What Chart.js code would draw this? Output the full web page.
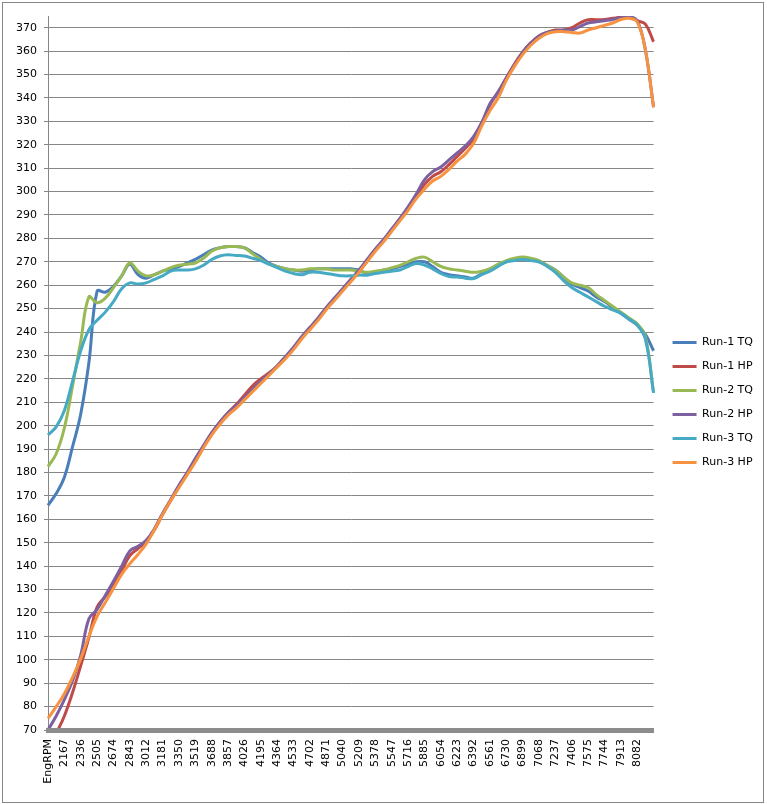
<!DOCTYPE html>
<html>
<head>
<meta charset="utf-8">
<title>Dyno runs</title>
<script src="https://cdn.jsdelivr.net/npm/chart.js@4.4.0/dist/chart.umd.min.js"></script>
<style>
  html, body { margin: 0; padding: 0; background: #fff; }
  #wrap { position: relative; width: 767px; height: 804px; }
  #wrap canvas { position: absolute; left: 0; top: 0; }
  #frame { position: absolute; left: 2px; top: 2px; width: 762px; height: 801px;
           border: 1px solid #868686; box-sizing: border-box; pointer-events: none; }
</style>
</head>
<body>
<div id="wrap">
  <canvas id="dyno" width="767" height="804"></canvas>
  <div id="frame"></div>
</div>
<script>
// categories: engine rpm (every second one is labelled)
const rpmLabels = ['EngRPM', '2083', '2167', '2252', '2336', '2421', '2505', '2590', '2674', '2759',
  '2843', '2928', '3012', '3097', '3181', '3266', '3350', '3435', '3519', '3604',
  '3688', '3773', '3857', '3942', '4026', '4111', '4195', '4280', '4364', '4449',
  '4533', '4618', '4702', '4787', '4871', '4956', '5040', '5125', '5209', '5294',
  '5378', '5463', '5547', '5632', '5716', '5801', '5885', '5970', '6054', '6139',
  '6223', '6308', '6392', '6477', '6561', '6646', '6730', '6815', '6899', '6984',
  '7068', '7153', '7237', '7322', '7406', '7491', '7575', '7660', '7744', '7829',
  '7913', '7998', '8082', '8167', '8251'];

const seriesNames = ['Run-1 TQ', 'Run-1 HP', 'Run-2 TQ', 'Run-2 HP', 'Run-3 TQ', 'Run-3 HP'];

const run1Tq = [166, 171, 178, 191, 205, 227, 257.5, 257, 259.5, 264,
  269, 264.5, 263, 264.5, 266, 267, 268, 269.5, 271, 273,
  275, 276, 276.5, 276.5, 276, 274, 272, 269.5, 268, 267,
  266.5, 266, 266.5, 267, 267, 267, 267, 267, 266.5, 265,
  265.5, 266.5, 267, 268, 269, 270, 270, 268, 265.5, 264.5,
  264, 263.5, 263, 265, 267, 268.5, 270, 271, 271, 271,
  270, 268.5, 266.5, 263.5, 260.5, 259, 257.5, 255, 253, 250.5,
  248, 245.5, 243, 239, 232];

const run1Hp = [61, 68.5, 76, 86, 97.5, 109.5, 122.5, 127, 131.5, 138,
  144.5, 147.5, 150.5, 155.5, 162, 168, 174, 179.5, 185, 191,
  196.5, 201.5, 205.5, 209, 213, 217, 220, 222.5, 225.5, 229,
  233, 237.5, 241.5, 245.5, 250, 254, 258, 262, 266, 270.5,
  275, 279, 283.5, 288, 293, 298, 303, 306.5, 308.5, 311.5,
  315, 318.5, 322.5, 329, 337, 342.5, 348.5, 354.5, 359.5, 363.5,
  366.5, 368, 369, 369, 370, 372, 373.4, 373.4, 373.5, 374,
  374.5, 374.5, 373, 371.5, 364];

const run2Tq = [182.5, 188, 199, 217, 236, 255, 252.5, 254.5, 259, 264,
  269.5, 266, 264, 264.5, 266, 267.5, 268.5, 269, 269.5, 271.5,
  274.5, 276, 276.5, 276.5, 276, 273.5, 271, 269, 268, 267,
  266.5, 266.5, 267, 267, 267, 266.5, 266.5, 266.5, 266, 265.5,
  266, 266.5, 267.5, 268.5, 270, 271.5, 272, 270, 268, 267,
  266.5, 266, 265.5, 266, 267, 269, 270.5, 271.5, 272, 271.5,
  270.5, 268.5, 266.5, 263.5, 261, 260, 259, 256, 253.5, 251,
  248.5, 246, 243.5, 238, 214];

const run2Hp = [70, 76, 83, 91, 102, 117.5, 121.5, 127.5, 133.5, 140,
  146.5, 148.5, 151, 156, 162.5, 168.5, 174.5, 180, 186, 191.5,
  197, 201.5, 205.5, 208.5, 212, 215.5, 219, 222, 225.5, 229.5,
  233.5, 238, 242, 246, 250.5, 254.5, 258.5, 262.5, 266.5, 271,
  275.5, 279.5, 284, 288.5, 293.5, 299, 305, 308.5, 310.5, 313.5,
  316.5, 319.5, 323.5, 329.5, 337.5, 342.5, 348.5, 354, 359.5, 363.5,
  366.5, 368, 368.5, 369, 369, 370.5, 372, 372.5, 373, 373.5,
  374.3, 374.8, 373, 360.5, 336];

const run3Tq = [196, 199.5, 206.5, 219, 232, 241, 245, 248.5, 253, 258.5,
  261, 260.5, 261, 262.5, 264, 266, 266.5, 266.5, 267, 268.5,
  271, 272.5, 273, 272.7, 272.5, 271.5, 270.5, 269, 267.5, 266,
  265, 264.5, 265.5, 265.5, 265, 264.5, 264, 264, 264.3, 264.3,
  265, 265.5, 266, 266.5, 268, 269.3, 268.6, 267, 265, 263.7,
  263.5, 263, 262.8, 264.5, 266, 268, 270, 270.5, 271, 270.5,
  270, 268, 265.5, 262, 259, 257, 255, 253, 251, 249.5,
  248, 245.5, 243, 237, 214];

const run3Hp = [75, 80, 85.5, 92.5, 100.5, 110, 118.5, 124.5, 130.5, 136.5,
  141, 145, 149.5, 155.5, 162, 168, 173.5, 179, 184.5, 190.5,
  196, 200.5, 204.5, 207.5, 211, 214.5, 218, 221.5, 225, 228.5,
  232.5, 237, 241, 245, 249.5, 253.5, 257.5, 261.5, 265.5, 270,
  274.5, 278.5, 283, 287.5, 292, 297, 301, 304.5, 306.5, 309.5,
  313, 316, 320.5, 328, 334.5, 340, 347.5, 353.5, 358.5, 362.5,
  365.5, 367.5, 368.3, 368.3, 368, 367.7, 369, 370, 371, 372,
  373.5, 374, 372.5, 360.5, 336];

const seriesData = [run1Tq, run1Hp, run2Tq, run2Hp, run3Tq, run3Hp];
const seriesColors = ['#4A7EBB', '#BE4B48', '#98B954', '#7D60A0', '#46AAC5', '#F69240'];

Chart.defaults.font.family = "'DejaVu Sans', Verdana, sans-serif";
Chart.defaults.font.size = 11;
Chart.defaults.color = '#000';

const datasets = seriesNames.map((name, i) => ({
  label: name,
  data: seriesData[i],
  borderColor: seriesColors[i],
  backgroundColor: seriesColors[i],
  borderWidth: 3,
  fill: false,
  pointRadius: 0,
  tension: 0.4,
  order: seriesNames.length - i   // later runs drawn on top, like Excel
}));

new Chart(document.getElementById('dyno'), {
  type: 'line',
  data: { labels: rpmLabels, datasets: datasets },
  options: {
    responsive: false,
    animation: false,
    layout: { padding: { top: 16, right: 4, bottom: 15, left: 0 } },
    plugins: {
      tooltip: { enabled: false },
      legend: {
        position: 'right',
        labels: {
          usePointStyle: true,
          pointStyle: 'line',
          pointStyleWidth: 24,
          padding: 13,
          color: '#000',
          sort: (a, b) => a.datasetIndex - b.datasetIndex
        }
      }
    },
    scales: {
      x: {
        grid: { display: false, drawTicks: false },
        border: { display: true, color: '#8c8c8c', width: 5, z: 1 },
        ticks: {
          autoSkip: false,
          minRotation: 90,
          maxRotation: 90,
          padding: 9,
          callback: function(value, index) {
            return (index % 2 === 0 && index <= 72) ? this.getLabelForValue(value) : '';
          }
        },
        afterFit: s => { s.height = 59; }
      },
      y: {
        min: 70,
        max: 375,
        grid: {
          color: c => c.tick.value % 10 === 0 ? '#868686' : '#c4c4c4',
          tickColor: c => c.tick.value % 10 === 0 ? '#868686' : 'rgba(0,0,0,0)',
          tickLength: 4
        },
        border: { display: true, color: '#868686', width: 1 },
        ticks: {
          stepSize: 5,
          maxTicksLimit: 100,
          padding: 7,
          callback: v => v % 10 === 0 ? v : ''
        },
        afterFit: s => { s.width = 48; }
      },
      gap: {
        type: 'linear',
        position: 'right',
        grid: { display: false, drawTicks: false },
        border: { display: false },
        ticks: { display: false },
        afterFit: s => { s.width = 6; }
      }
    }
  }
});
</script>
</body>
</html>
